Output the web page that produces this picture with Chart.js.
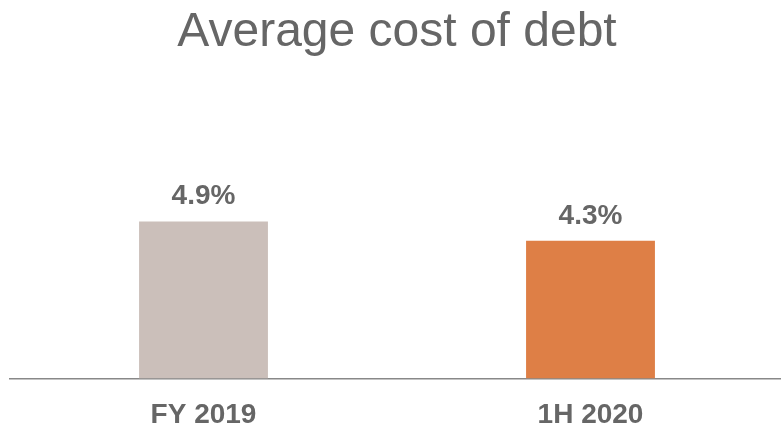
<!DOCTYPE html>
<html>
<head>
<meta charset="utf-8">
<title>Average cost of debt</title>
<script src="https://cdn.jsdelivr.net/npm/chart.js@4"></script>
<style>
    html, body { margin: 0; padding: 0; background: #fff; overflow: hidden; }
    #wrap { width: 784px; height: 433px; }
</style>
</head>
<body>
<div id="wrap"><canvas id="chartCostOfDebt"></canvas></div>
<script>
// Periods and average cost of debt (%)
const periods = ['FY 2019', '1H 2020'];
const costOfDebt = [4.9, 4.3];
const barColors = ['#cbbfba', '#de7f46'];

const textGrey = '#666666';
const fontFamily = '"Liberation Sans", Arial, Helvetica, sans-serif';

// Draw the value above each bar
const valueLabels = {
    id: 'valueLabels',
    afterDatasetsDraw(chart) {
        const ctx = chart.ctx;
        const meta = chart.getDatasetMeta(0);
        ctx.save();
        ctx.font = 'bold 28px ' + fontFamily;
        ctx.fillStyle = textGrey;
        ctx.textAlign = 'center';
        ctx.textBaseline = 'middle';
        meta.data.forEach(function(bar, i) {
            ctx.fillText(costOfDebt[i].toFixed(1) + '%', bar.x, bar.y - 25);
        });
        ctx.restore();
    }
};

const ctx = document.getElementById('chartCostOfDebt').getContext('2d');
new Chart(ctx, {
    type: 'bar',
    data: {
        labels: periods,
        datasets: [{
            data: costOfDebt,
            backgroundColor: barColors,
            borderWidth: 0,
            barPercentage: 0.333,
            categoryPercentage: 1
        }]
    },
    options: {
        responsive: true,
        maintainAspectRatio: false,
        animation: false,
        layout: {
            padding: { left: 10, right: 0, top: 0, bottom: -19 }
        },
        plugins: {
            legend: { display: false },
            tooltip: { enabled: false },
            title: {
                display: true,
                text: 'Average cost of debt',
                color: textGrey,
                font: { family: fontFamily, size: 48, weight: 'normal' },
                padding: { top: 4, bottom: 0 }
            }
        },
        scales: {
            y: {
                display: false,
                min: 0,
                max: 9.9
            },
            x: {
                grid: { display: false, drawTicks: false },
                border: { display: true, color: '#888888', width: 1.5 },
                ticks: {
                    color: textGrey,
                    padding: 20,
                    font: { family: fontFamily, size: 28, weight: 'bold' }
                }
            }
        }
    },
    plugins: [valueLabels]
});
</script>
</body>
</html>
